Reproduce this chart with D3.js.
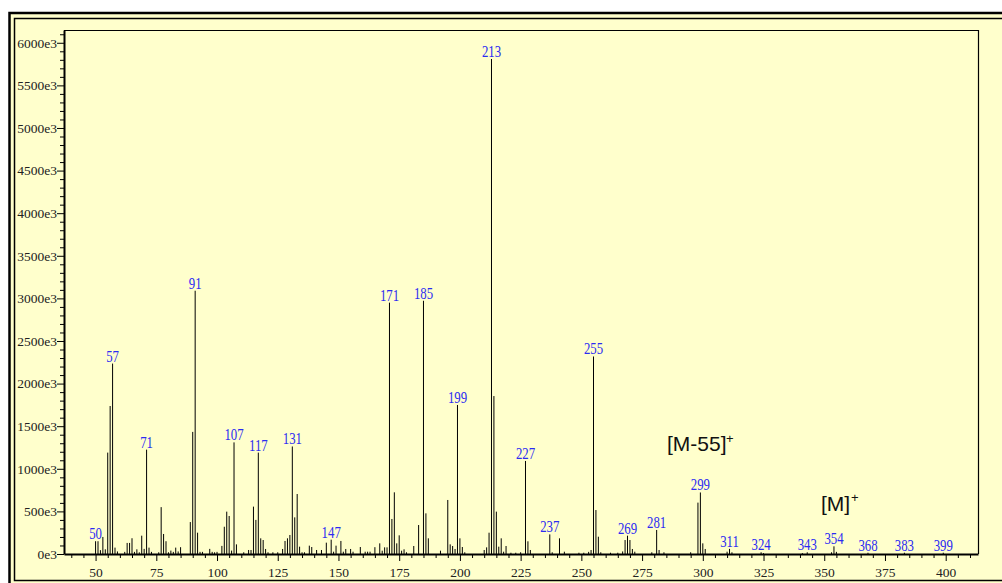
<!DOCTYPE html>
<html>
<head>
    <title>Mass spectrum</title>
    <script src="https://d3js.org/d3.v7.min.js"></script>
    <style>
        body { margin: 0; background: #fff; }
        .axis path, .axis line { fill: none; stroke: #000; }
        .axis text { font-family: "Liberation Serif", serif; font-size: 13.5px; fill: #222; }
        .bar { stroke: #000; stroke-width: 1; }
        .peak-label { font-family: "Liberation Serif", serif; font-size: 16px; fill: #2b2bf2; text-anchor: middle; }
        .note { font-family: "Liberation Sans", Arial, sans-serif; fill: #111; }
    </style>
</head>
<body>
    <svg width="1002" height="583"></svg>
    <script>
        // m/z values and intensities (in e3 units)
        const mz = [50, 51, 52, 53, 54, 55, 56, 57, 58, 59, 62, 63, 64, 65, 66, 67, 68, 69, 70, 71,
            72, 73, 76, 77, 78, 79, 80, 81, 82, 83, 84, 85, 89, 90, 91, 92, 93, 94, 97, 98,
            99, 100, 102, 103, 104, 105, 106, 107, 108, 111, 113, 114, 115, 116, 117, 118, 119, 120, 121, 123,
            125, 127, 128, 129, 130, 131, 132, 133, 134, 135, 136, 138, 139, 141, 143, 145, 147, 148, 149, 151,
            152, 153, 155, 156, 159, 161, 162, 163, 165, 167, 168, 169, 170, 171, 172, 173, 174, 175, 176, 177,
            178, 181, 183, 185, 186, 187, 192, 195, 196, 197, 198, 199, 200, 201, 202, 210, 211, 212, 213, 214,
            215, 216, 217, 218, 219, 221, 223, 225, 227, 228, 229, 237, 238, 241, 243, 249, 251, 253, 254, 255,
            256, 257, 258, 262, 265, 267, 268, 269, 270, 271, 272, 279, 281, 282, 284, 295, 298, 299, 300, 301,
            310, 311, 312, 324, 325, 341, 343, 353, 354, 355, 368, 383, 399];
        const intensity = [150, 150, 45, 200, 55, 1190, 1737, 2235, 75, 30, 25, 130, 130, 185, 25, 55, 20, 215, 60, 1225,
            75, 25, 20, 550, 235, 150, 20, 40, 25, 75, 30, 80, 375, 1433, 3090, 250, 25, 25, 60, 25,
            20, 25, 95, 320, 497, 446, 40, 1310, 113, 20, 47, 47, 556, 400, 1190, 184, 164, 59, 20, 20,
            20, 59, 153, 184, 223, 1262, 430, 704, 86, 20, 20, 98, 82, 47, 47, 133, 168, 27, 98, 153,
            27, 59, 59, 27, 82, 27, 27, 27, 80, 125, 39, 78, 78, 2950, 411, 724, 125, 219, 39, 55,
            20, 94, 340, 2972, 477, 184, 39, 634, 113, 94, 59, 1749, 184, 82, 20, 47, 78, 250, 5810, 1854,
            497, 86, 184, 27, 94, 15, 15, 20, 1092, 149, 47, 230, 20, 184, 27, 15, 15, 25, 47, 2318,
            516, 203, 20, 15, 15, 30, 164, 215, 164, 59, 27, 20, 282, 47, 20, 20, 603, 722, 125, 59,
            27, 60, 20, 20, 10, 10, 20, 20, 90, 25, 15, 15, 15];
        const labelMz = [50, 57, 71, 91, 107, 117, 131, 147, 171, 185, 199, 213, 227, 237, 255, 269, 281, 299,
            311, 324, 343, 354, 368, 383, 399];
        const yTickValues = d3.range(0, 6001, 500);

        const data = mz.map((m, i) => ({ mz: m, v: intensity[i] }));
        const byMz = new Map(data.map(d => [d.mz, d.v]));

        const svg = d3.select("svg");

        // page background and double frame
        svg.append("rect").attr("x", 10).attr("y", 13).attr("width", 1000).attr("height", 580)
            .attr("fill", "#ffffcc");
        svg.append("rect").attr("x", 9.5).attr("y", 13).attr("width", 1010).attr("height", 580)
            .attr("fill", "none").attr("stroke", "#000").attr("stroke-width", 2.5);
        svg.append("rect").attr("x", 14.5).attr("y", 18.5).attr("width", 1000).attr("height", 562)
            .attr("fill", "none").attr("stroke", "#000").attr("stroke-width", 1.5);

        const x = d3.scaleLinear().domain([37, 413.3]).range([64, 978]);
        const y = d3.scaleLinear().domain([0, 6150]).range([554, 30]);

        // plot box (top and right edges)
        svg.append("path")
            .attr("d", "M64,30.5H978.5V554")
            .attr("fill", "none").attr("stroke", "#000").attr("stroke-width", 1.2);

        // bars
        svg.append("g").selectAll("line")
            .data(data)
            .join("line")
            .attr("class", "bar")
            .attr("x1", d => x(d.mz))
            .attr("x2", d => x(d.mz))
            .attr("y1", y(0))
            .attr("y2", d => y(d.v));

        // x axis
        const xAxis = svg.append("g")
            .attr("class", "axis")
            .attr("transform", "translate(0," + y(0) + ")")
            .call(d3.axisBottom(x)
                .tickValues(d3.range(40, 411, 5))
                .tickSizeInner(4)
                .tickSizeOuter(0)
                .tickFormat(d => d % 25 === 0 ? d : ""));
        xAxis.select(".domain").attr("stroke-width", 2);
        xAxis.selectAll(".tick line").filter(d => d % 25 === 0).attr("y2", 7);
        xAxis.selectAll(".tick text").attr("y", 23).attr("dy", null);

        // y axis
        const yAxis = svg.append("g")
            .attr("class", "axis")
            .attr("transform", "translate(64,0)")
            .call(d3.axisLeft(y)
                .tickValues(d3.range(0, 6101, 100))
                .tickSizeInner(4)
                .tickSizeOuter(0)
                .tickFormat(d => yTickValues.includes(d) ? d + "e3" : ""));
        yAxis.select(".domain").attr("stroke-width", 2);
        yAxis.selectAll(".tick line").filter(d => d % 500 === 0).attr("x2", -7);
        yAxis.selectAll(".tick text").attr("x", -7);

        // peak labels
        svg.append("g").selectAll("text")
            .data(labelMz)
            .join("text")
            .attr("class", "peak-label")
            .attr("transform", d => "translate(" + x(d) + "," + (y(byMz.get(d)) - 2) + ") scale(0.8,1)")
            .text(d => d);

        // ion annotations
        const n1 = svg.append("g").attr("class", "note");
        n1.append("text").attr("x", 667).attr("y", 451).attr("font-size", 21).text("[M-55]");
        n1.append("text").attr("x", 726).attr("y", 443).attr("font-size", 13).text("+");
        n1.append("text").attr("x", 821).attr("y", 510.5).attr("font-size", 21).text("[M]");
        n1.append("text").attr("x", 851).attr("y", 502).attr("font-size", 13).text("+");
    </script>
</body>
</html>
